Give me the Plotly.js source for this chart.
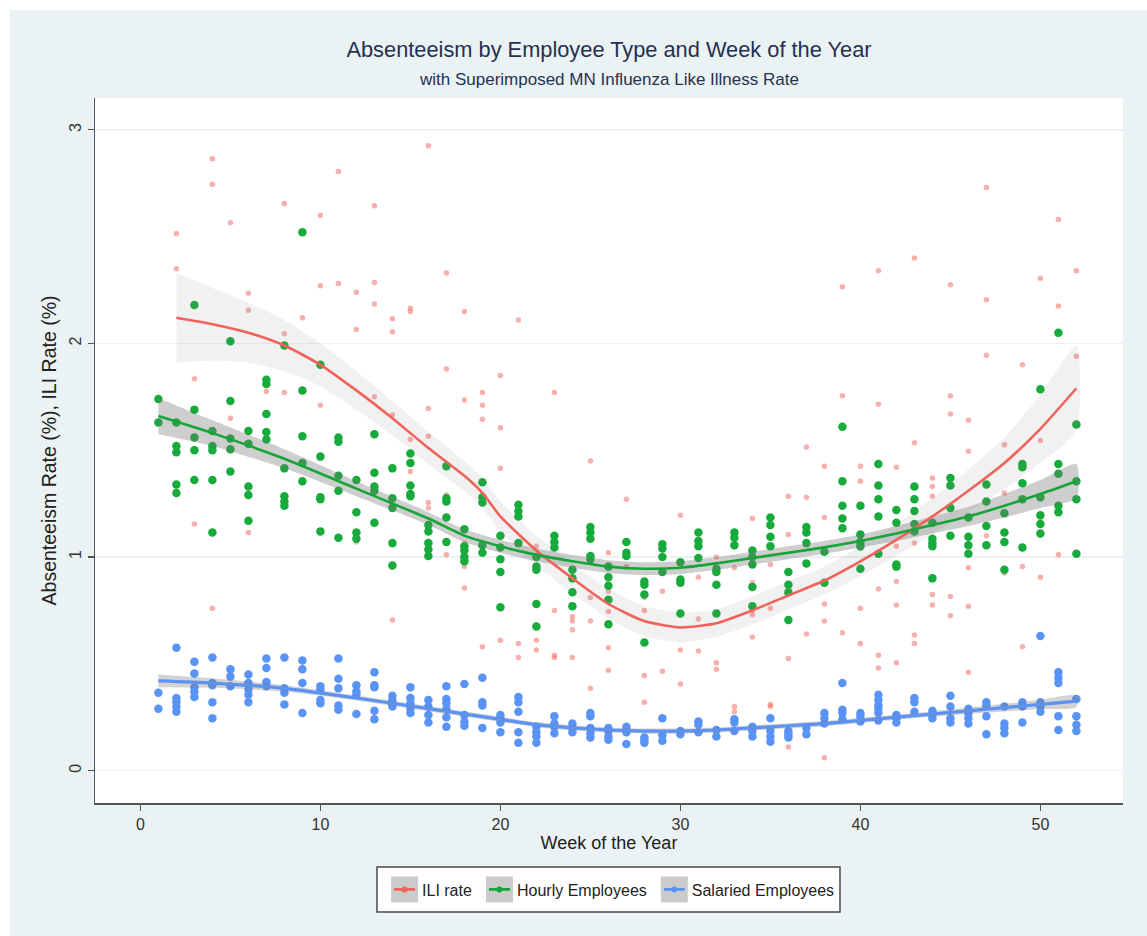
<!DOCTYPE html>
<html>
<head>
<meta charset="utf-8">
<script src="https://cdn.plot.ly/plotly-3.0.1.min.js"></script>
<style>
html,body{margin:0;padding:0;background:#ffffff;}
#chart{position:absolute;left:10px;top:10px;width:1137px;height:926px;}
</style>
</head>
<body>
<div id="chart"></div>
<script>
// ---------- Data ----------
// Scatter values per week (index 0 = week 1)
const iliByWeek = [
  [], [2.515, 2.35, 0.575], [1.835, 1.155], [2.865, 2.745, 0.76], [2.565, 1.65],
  [2.235, 2.155, 1.115], [1.775], [2.655, 2.045, 1.77], [2.12], [2.60, 2.27, 1.71],
  [2.805, 2.28], [2.24, 2.065, 1.07], [2.645, 2.285, 2.185, 1.75], [2.115, 2.055, 1.665, 0.705], [2.165, 2.15, 1.55, 1.40],
  [2.925, 1.695, 1.565, 1.255, 1.23], [2.33, 1.88, 1.29, 1.01], [2.15, 1.735, 1.065, 0.955, 0.855], [1.77, 1.71, 1.645, 0.58], [1.85, 1.605, 1.415, 0.61],
  [2.11, 1.065, 0.595, 0.53], [1.05, 0.94, 0.61, 0.565, 0.135], [1.77, 0.75, 0.54, 0.53], [0.835, 0.72, 0.70, 0.66, 0.53], [1.45, 0.81, 0.70, 0.385],
  [1.02, 0.84, 0.745, 0.575, 0.47], [1.27, 1.02, 0.955], [0.81, 0.75, 0.445, 0.32], [0.84, 0.465], [1.195, 0.565, 0.405],
  [0.905, 0.71, 0.56], [1.0, 0.505, 0.475], [0.95, 0.30, 0.275], [1.18, 0.88, 0.75, 0.73, 0.625], [0.965, 0.76, 0.31, 0.30],
  [1.285, 1.105, 0.525, 0.11], [1.515, 1.28, 0.64], [1.425, 1.185, 0.78, 0.70, 0.06], [2.265, 1.755, 0.645], [1.425, 1.355, 1.04, 0.76, 0.595],
  [2.34, 1.715, 0.85, 0.54, 0.48], [1.42, 1.05, 0.885, 0.775, 0.505], [2.40, 1.535, 1.065, 0.635, 0.595], [1.37, 1.33, 1.285, 0.825, 0.775], [2.275, 1.755, 1.67, 0.815, 0.725],
  [1.64, 1.495, 0.95, 0.77, 0.46], [2.73, 2.205, 1.945, 1.10, 1.055], [1.525, 1.30, 0.925], [1.90, 0.955, 0.58], [2.305, 1.545, 1.185, 0.905],
  [2.58, 2.175, 1.01], [2.34, 1.94]
];
const hourlyByWeek = [
  [1.74, 1.63], [1.63, 1.52, 1.49, 1.34, 1.30], [2.18, 1.69, 1.56, 1.50, 1.36], [1.59, 1.52, 1.50, 1.36, 1.115], [2.01, 1.73, 1.555, 1.505, 1.40],
  [1.59, 1.53, 1.33, 1.29, 1.17], [1.83, 1.81, 1.67, 1.585, 1.55], [1.99, 1.415, 1.285, 1.26, 1.24], [2.52, 1.78, 1.565, 1.44, 1.355], [1.90, 1.47, 1.28, 1.27, 1.12],
  [1.56, 1.54, 1.38, 1.31, 1.09], [1.36, 1.21, 1.115, 1.085], [1.575, 1.395, 1.33, 1.31, 1.16], [1.415, 1.275, 1.23, 1.065, 0.96], [1.485, 1.44, 1.335, 1.295, 1.285],
  [1.15, 1.12, 1.065, 1.035, 1.005], [1.425, 1.275, 1.26, 1.185, 1.07], [1.13, 1.05, 1.03, 1.00, 0.98], [1.35, 1.28, 1.255, 1.055, 1.02], [1.10, 1.045, 0.99, 0.93, 0.765],
  [1.245, 1.215, 1.19, 1.065], [1.0, 0.955, 0.94, 0.78, 0.675], [1.10, 1.07, 1.045], [0.94, 0.90, 0.835, 0.77], [1.14, 1.115, 1.085, 1.005, 0.99],
  [0.955, 0.905, 0.865, 0.80, 0.685], [1.07, 1.02, 1.005], [0.885, 0.87, 0.825, 0.60], [1.06, 1.04, 1.0, 0.93], [0.975, 0.895, 0.88, 0.735],
  [1.115, 1.075, 1.05, 0.995], [0.945, 0.93, 0.87, 0.735], [1.115, 1.09, 1.055], [1.03, 1.0, 0.965, 0.86, 0.77], [1.185, 1.15, 1.095, 1.05],
  [0.93, 0.87, 0.835, 0.705], [1.14, 1.115, 1.065, 0.97], [1.025, 0.88], [1.61, 1.355, 1.24, 1.18, 1.135], [1.24, 1.105, 1.07, 1.05, 0.945],
  [1.435, 1.335, 1.27, 1.19, 1.015], [1.22, 1.16, 0.965, 0.955], [1.33, 1.27, 1.215, 1.155, 1.12], [1.16, 1.085, 1.065, 1.05, 0.90], [1.37, 1.335, 1.23, 1.10],
  [1.185, 1.095, 1.055, 1.015], [1.34, 1.26, 1.145, 1.055], [1.205, 1.115, 1.07, 0.94], [1.435, 1.42, 1.345, 1.27, 1.045], [1.785, 1.28, 1.195, 1.155, 1.11],
  [2.05, 1.435, 1.39, 1.24, 1.21], [1.62, 1.355, 1.27, 1.015]
];
const salariedByWeek = [
  [0.365, 0.29], [0.575, 0.34, 0.32, 0.30, 0.275], [0.51, 0.455, 0.39, 0.37, 0.345], [0.53, 0.41, 0.40, 0.32, 0.245], [0.475, 0.44, 0.395],
  [0.45, 0.41, 0.38, 0.355, 0.32], [0.525, 0.48, 0.415, 0.395], [0.53, 0.385, 0.365, 0.31], [0.515, 0.475, 0.41, 0.27], [0.395, 0.38, 0.33, 0.315],
  [0.525, 0.43, 0.385, 0.305, 0.285], [0.40, 0.37, 0.355, 0.265], [0.46, 0.40, 0.39, 0.28, 0.24], [0.35, 0.33, 0.31, 0.30], [0.39, 0.34, 0.315, 0.29, 0.27],
  [0.33, 0.30, 0.26, 0.225], [0.395, 0.335, 0.315, 0.29, 0.25, 0.205], [0.405, 0.26, 0.23, 0.21], [0.435, 0.32, 0.305, 0.20], [0.26, 0.245, 0.225, 0.18],
  [0.345, 0.32, 0.275, 0.18, 0.13], [0.205, 0.18, 0.16, 0.13], [0.255, 0.22, 0.205, 0.175], [0.22, 0.20, 0.18], [0.27, 0.255, 0.20, 0.175, 0.155],
  [0.20, 0.185, 0.16, 0.145], [0.205, 0.18, 0.125], [0.155, 0.145, 0.13], [0.245, 0.165, 0.14], [0.185, 0.17],
  [0.23, 0.215, 0.18], [0.19, 0.16], [0.24, 0.225, 0.185], [0.205, 0.185, 0.16], [0.245, 0.185, 0.16, 0.135],
  [0.185, 0.17, 0.155], [0.20, 0.17], [0.27, 0.245, 0.22], [0.41, 0.285, 0.27, 0.24], [0.27, 0.255, 0.23],
  [0.355, 0.33, 0.305, 0.29, 0.27, 0.235], [0.26, 0.245, 0.225], [0.34, 0.32, 0.275], [0.28, 0.26, 0.245], [0.35, 0.30, 0.245, 0.225],
  [0.29, 0.27, 0.245, 0.22], [0.32, 0.305, 0.255, 0.17], [0.30, 0.22, 0.20, 0.175], [0.32, 0.30, 0.225], [0.63, 0.32, 0.30, 0.275],
  [0.46, 0.435, 0.41, 0.255, 0.19], [0.335, 0.255, 0.215, 0.185]
];

// Smoothed fits with confidence bands
const iliFitWeek = [2, 4, 6, 8, 10, 12, 14, 16, 18, 19, 20, 22, 24, 26, 28, 30, 32, 34, 36, 38, 40, 42, 44, 46, 48, 50, 52];
const iliFit = [2.12, 2.09, 2.05, 1.99, 1.90, 1.78, 1.65, 1.51, 1.38, 1.30, 1.19, 1.03, 0.90, 0.78, 0.70, 0.67, 0.69, 0.75, 0.82, 0.89, 0.98, 1.08, 1.19, 1.31, 1.44, 1.60, 1.79];
const iliHi = [2.33, 2.26, 2.19, 2.11, 2.00, 1.87, 1.73, 1.585, 1.45, 1.37, 1.26, 1.10, 0.97, 0.85, 0.77, 0.74, 0.755, 0.815, 0.885, 0.955, 1.05, 1.155, 1.275, 1.41, 1.56, 1.76, 1.99];
const iliLo = [1.91, 1.92, 1.91, 1.87, 1.80, 1.69, 1.57, 1.435, 1.31, 1.23, 1.12, 0.96, 0.83, 0.71, 0.63, 0.60, 0.625, 0.685, 0.755, 0.825, 0.91, 1.005, 1.105, 1.21, 1.32, 1.44, 1.59];

const hourlyFitWeek = [1, 4, 8, 12, 16, 18, 20, 22, 24, 26, 28, 30, 32, 34, 36, 38, 40, 42, 44, 46, 48, 50, 52];
const hourlyFit = [1.66, 1.58, 1.46, 1.32, 1.18, 1.10, 1.05, 1.01, 0.98, 0.955, 0.945, 0.95, 0.97, 0.995, 1.02, 1.045, 1.075, 1.11, 1.15, 1.19, 1.24, 1.295, 1.355];
const hourlyHi = [1.745, 1.64, 1.505, 1.355, 1.21, 1.13, 1.08, 1.04, 1.01, 0.985, 0.975, 0.98, 1.0, 1.025, 1.05, 1.075, 1.105, 1.145, 1.19, 1.235, 1.295, 1.36, 1.435];
const hourlyLo = [1.575, 1.52, 1.415, 1.285, 1.15, 1.07, 1.02, 0.98, 0.95, 0.925, 0.915, 0.92, 0.94, 0.965, 0.99, 1.015, 1.045, 1.075, 1.11, 1.145, 1.185, 1.23, 1.275];

const salariedFitWeek = [1, 4, 8, 12, 16, 20, 22, 24, 26, 28, 30, 32, 34, 36, 38, 40, 42, 44, 46, 48, 50, 52];
const salariedFit = [0.42, 0.41, 0.385, 0.34, 0.29, 0.24, 0.215, 0.20, 0.19, 0.185, 0.185, 0.19, 0.20, 0.21, 0.22, 0.235, 0.25, 0.265, 0.28, 0.295, 0.31, 0.325];
const salariedHi = [0.45, 0.432, 0.40, 0.352, 0.302, 0.252, 0.227, 0.212, 0.202, 0.197, 0.197, 0.202, 0.212, 0.222, 0.232, 0.247, 0.262, 0.278, 0.295, 0.313, 0.332, 0.353];
const salariedLo = [0.39, 0.388, 0.37, 0.328, 0.278, 0.228, 0.203, 0.188, 0.178, 0.173, 0.173, 0.178, 0.188, 0.198, 0.208, 0.223, 0.238, 0.252, 0.265, 0.277, 0.288, 0.297];

const seriesNames = ['ILI rate', 'Hourly Employees', 'Salaried Employees'];
const xTicks = [0, 10, 20, 30, 40, 50];
const yTicks = [0, 1, 2, 3];

// ---------- Build traces ----------
function flatten(byWeek) {
  const xs = [], ys = [];
  byWeek.forEach((vals, i) => vals.forEach(v => { xs.push(i + 1); ys.push(v); }));
  return {xs, ys};
}
function band(wk, hi, lo, fillcolor) {
  return {
    x: wk.concat(wk.slice().reverse()),
    y: hi.concat(lo.slice().reverse()),
    type: 'scatter', mode: 'lines', fill: 'toself', fillcolor: fillcolor,
    line: {width: 0, shape: 'spline', smoothing: 0.6}, hoverinfo: 'skip', showlegend: false
  };
}
const colILI = '#f0625a', colHr = '#14a538', colSal = '#5c92f2';
const ili = flatten(iliByWeek), hr = flatten(hourlyByWeek), sal = flatten(salariedByWeek);

const traces = [
  {x: ili.xs, y: ili.ys, type: 'scatter', mode: 'markers', marker: {size: 5.5, color: 'rgba(242,112,104,0.55)'}, hoverinfo: 'skip', showlegend: false},
  {x: hr.xs, y: hr.ys, type: 'scatter', mode: 'markers', marker: {size: 8.5, color: '#17ab3b'}, hoverinfo: 'skip', showlegend: false},
  {x: sal.xs, y: sal.ys, type: 'scatter', mode: 'markers', marker: {size: 8.5, color: '#5a93f6'}, hoverinfo: 'skip', showlegend: false},
  band(iliFitWeek, iliHi, iliLo, 'rgba(128,128,128,0.11)'),
  band(hourlyFitWeek, hourlyHi, hourlyLo, 'rgba(120,120,120,0.36)'),
  band(salariedFitWeek, salariedHi, salariedLo, 'rgba(120,120,120,0.33)'),
  {x: iliFitWeek, y: iliFit, type: 'scatter', mode: 'lines', line: {color: colILI, width: 2.6, shape: 'spline', smoothing: 0.6}, hoverinfo: 'skip', showlegend: false},
  {x: hourlyFitWeek, y: hourlyFit, type: 'scatter', mode: 'lines', line: {color: colHr, width: 2.6, shape: 'spline', smoothing: 0.6}, hoverinfo: 'skip', showlegend: false},
  {x: salariedFitWeek, y: salariedFit, type: 'scatter', mode: 'lines', line: {color: colSal, width: 3.2, shape: 'spline', smoothing: 0.6}, hoverinfo: 'skip', showlegend: false},
  // legend entries
  {x: [null], y: [null], name: seriesNames[0], type: 'scatter', mode: 'lines+markers', line: {color: colILI, width: 2.6}, marker: {color: colILI, size: 6}},
  {x: [null], y: [null], name: seriesNames[1], type: 'scatter', mode: 'lines+markers', line: {color: colHr, width: 2.6}, marker: {color: colHr, size: 6}},
  {x: [null], y: [null], name: seriesNames[2], type: 'scatter', mode: 'lines+markers', line: {color: colSal, width: 2.6}, marker: {color: colSal, size: 6}}
];

const axisCommon = {
  ticks: 'outside', ticklen: 6, tickwidth: 1.3, tickcolor: '#555',
  showline: true, linecolor: '#555', linewidth: 1.5, zeroline: false,
  tickfont: {size: 16, color: '#333'}
};

const layout = {
  width: 1137, height: 926,
  paper_bgcolor: '#eaf2f3', plot_bgcolor: '#ffffff',
  margin: {l: 85, r: 24, t: 88, b: 133},
  font: {family: 'Liberation Sans, Arial, Helvetica, sans-serif', color: '#222'},
  title: {
    text: 'Absenteeism by Employee Type and Week of the Year',
    xref: 'paper', x: 0.5, xanchor: 'center',
    yref: 'container', y: 0.957, yanchor: 'middle',
    font: {size: 21.8, color: '#243152'}
  },
  annotations: [{
    text: 'with Superimposed MN Influenza Like Illness Rate',
    xref: 'paper', yref: 'paper', x: 0.5, y: 1.026, xanchor: 'center', yanchor: 'middle',
    showarrow: false, font: {size: 17, color: '#243152'}
  }],
  xaxis: Object.assign({}, axisCommon, {
    range: [-2.522, 54.589], tickvals: xTicks, showgrid: false,
    title: {text: 'Week of the Year', font: {size: 18, color: '#222'}, standoff: 3}
  }),
  yaxis: Object.assign({}, axisCommon, {
    range: [-0.1517, 3.149], tickvals: yTicks, tickangle: -90,
    showgrid: true, gridcolor: '#eaf2f3', gridwidth: 1.6,
    title: {text: 'Absenteeism Rate (%), ILI Rate (%)', font: {size: 19.5, color: '#222'}, standoff: 5}
  }),
  showlegend: true,
  legend: {
    orientation: 'h', x: 0.502, xanchor: 'center', y: -0.1227, yanchor: 'middle',
    bgcolor: 'rgba(0,0,0,0)', borderwidth: 0, font: {size: 16, color: '#222'},
    itemwidth: 30, traceorder: 'normal'
  },
  shapes: [{
    type: 'rect', xref: 'paper', yref: 'paper', layer: 'below',
    x0: 0.2743, x1: 0.7247, y0: -0.0908, y1: -0.1546,
    fillcolor: '#ffffff', line: {color: '#4a4a4a', width: 1.5}
  }]
};

Plotly.newPlot('chart', traces, layout, {displayModeBar: false, staticPlot: true}).then(gd => {
  // gray square behind each legend symbol (Stata-style key)
  const NS = 'http://www.w3.org/2000/svg';
  gd.querySelectorAll('.legend .traces').forEach(tr => {
    const layers = tr.querySelector('.layers');
    if (!layers) return;
    const r = document.createElementNS(NS, 'rect');
    r.setAttribute('x', 9); r.setAttribute('y', -13);
    r.setAttribute('width', 27); r.setAttribute('height', 26);
    r.setAttribute('fill', '#cbcbcb');
    layers.insertBefore(r, layers.firstChild);
    const ln = tr.querySelector('.legendlines path');
    if (ln) ln.setAttribute('d', 'M12,0h21');
    tr.querySelectorAll('.legendpoints path').forEach(p => p.setAttribute('transform', 'translate(22.5,0)'));
  });
});
</script>
</body>
</html>
